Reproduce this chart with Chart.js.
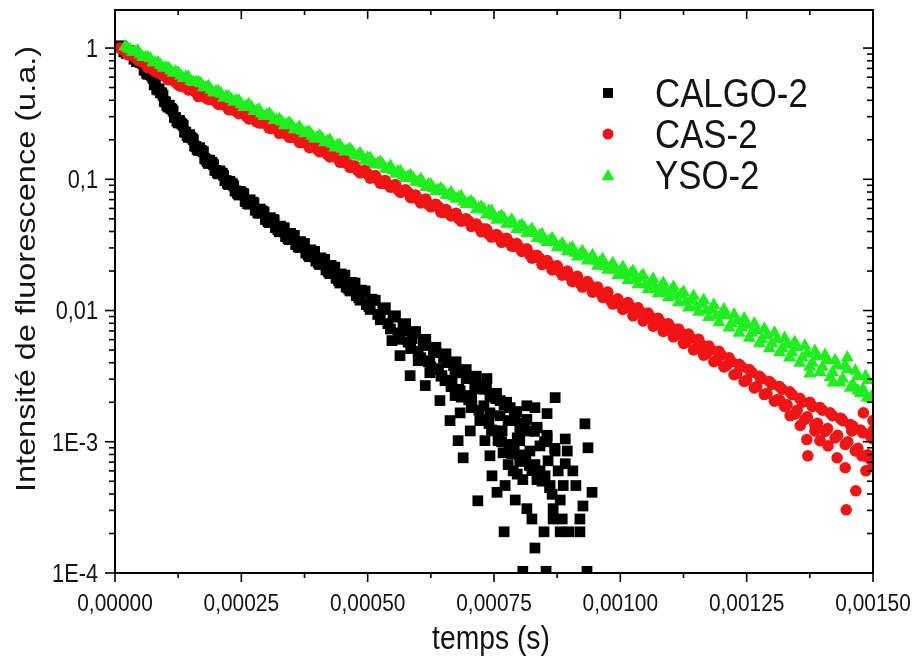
<!DOCTYPE html>
<html><head><meta charset="utf-8">
<script src="https://cdn.jsdelivr.net/npm/chart.js@4/dist/chart.umd.min.js"></script>
<style>html,body{margin:0;padding:0;background:#fff}canvas{display:block}</style>
</head><body>
<canvas id="c" width="916" height="662"></canvas>
<script>
// time axis (s), whole steps
const times = [1e-5,2e-5,3e-5,4e-5,5e-5,6e-5,7e-5,8e-5,9e-5,10e-5,
11e-5,12e-5,13e-5,14e-5,15e-5,16e-5,17e-5,18e-5,19e-5,20e-5,
21e-5,22e-5,23e-5,24e-5,25e-5,26e-5,27e-5,28e-5,29e-5,30e-5,
31e-5,32e-5,33e-5,34e-5,35e-5,36e-5,37e-5,38e-5,39e-5,40e-5,
41e-5,42e-5,43e-5,44e-5,45e-5,46e-5,47e-5,48e-5,49e-5,50e-5,
51e-5,52e-5,53e-5,54e-5,55e-5,56e-5,57e-5,58e-5,59e-5,60e-5,
61e-5,62e-5,63e-5,64e-5,65e-5,66e-5,67e-5,68e-5,69e-5,70e-5,
71e-5,72e-5,73e-5,74e-5,75e-5,76e-5,77e-5,78e-5,79e-5,80e-5,
81e-5,82e-5,83e-5,84e-5,85e-5,86e-5,87e-5,88e-5,89e-5,90e-5,
91e-5,92e-5,93e-5,94e-5,95e-5,96e-5,97e-5,98e-5,99e-5,100e-5,
101e-5,102e-5,103e-5,104e-5,105e-5,106e-5,107e-5,108e-5,109e-5,110e-5,
111e-5,112e-5,113e-5,114e-5,115e-5,116e-5,117e-5,118e-5,119e-5,120e-5,
121e-5,122e-5,123e-5,124e-5,125e-5,126e-5,127e-5,128e-5,129e-5,130e-5,
131e-5,132e-5,133e-5,134e-5,135e-5,136e-5,137e-5,138e-5,139e-5,140e-5,
141e-5,142e-5,143e-5,144e-5,145e-5,146e-5,147e-5,148e-5,149e-5,150e-5];

// time axis (s), half steps
const timesHalf = [1.5e-5,2.5e-5,3.5e-5,4.5e-5,5.5e-5,6.5e-5,7.5e-5,8.5e-5,9.5e-5,10.5e-5,
11.5e-5,12.5e-5,13.5e-5,14.5e-5,15.5e-5,16.5e-5,17.5e-5,18.5e-5,19.5e-5,20.5e-5,
21.5e-5,22.5e-5,23.5e-5,24.5e-5,25.5e-5,26.5e-5,27.5e-5,28.5e-5,29.5e-5,30.5e-5,
31.5e-5,32.5e-5,33.5e-5,34.5e-5,35.5e-5,36.5e-5,37.5e-5,38.5e-5,39.5e-5,40.5e-5,
41.5e-5,42.5e-5,43.5e-5,44.5e-5,45.5e-5,46.5e-5,47.5e-5,48.5e-5,49.5e-5,50.5e-5,
51.5e-5,52.5e-5,53.5e-5,54.5e-5,55.5e-5,56.5e-5,57.5e-5,58.5e-5,59.5e-5,60.5e-5,
61.5e-5,62.5e-5,63.5e-5,64.5e-5,65.5e-5,66.5e-5,67.5e-5,68.5e-5,69.5e-5,70.5e-5,
71.5e-5,72.5e-5,73.5e-5,74.5e-5,75.5e-5,76.5e-5,77.5e-5,78.5e-5,79.5e-5,80.5e-5,
81.5e-5,82.5e-5,83.5e-5,84.5e-5,85.5e-5,86.5e-5,87.5e-5,88.5e-5,89.5e-5,90.5e-5,
91.5e-5,92.5e-5,93.5e-5,94.5e-5,95.5e-5,96.5e-5,97.5e-5,98.5e-5,99.5e-5,100.5e-5,
101.5e-5,102.5e-5,103.5e-5,104.5e-5,105.5e-5,106.5e-5,107.5e-5,108.5e-5,109.5e-5,110.5e-5,
111.5e-5,112.5e-5,113.5e-5,114.5e-5,115.5e-5,116.5e-5,117.5e-5,118.5e-5,119.5e-5,120.5e-5,
121.5e-5,122.5e-5,123.5e-5,124.5e-5,125.5e-5,126.5e-5,127.5e-5,128.5e-5,129.5e-5,130.5e-5,
131.5e-5,132.5e-5,133.5e-5,134.5e-5,135.5e-5,136.5e-5,137.5e-5,138.5e-5,139.5e-5,140.5e-5,
141.5e-5,142.5e-5,143.5e-5,144.5e-5,145.5e-5,146.5e-5,147.5e-5,148.5e-5,149.5e-5];

// time axis (s), quarter steps (dense early part of CALGO-2)
const timesQ1 = [1.25e-5,2.25e-5,3.25e-5,4.25e-5,5.25e-5,6.25e-5,7.25e-5,8.25e-5,9.25e-5,10.25e-5,
11.25e-5,12.25e-5,13.25e-5,14.25e-5,15.25e-5,16.25e-5,17.25e-5,18.25e-5,19.25e-5,20.25e-5,
21.25e-5,22.25e-5,23.25e-5,24.25e-5,25.25e-5,26.25e-5,27.25e-5,28.25e-5,29.25e-5,30.25e-5,
31.25e-5,32.25e-5,33.25e-5,34.25e-5,35.25e-5,36.25e-5,37.25e-5,38.25e-5,39.25e-5,40.25e-5,
41.25e-5,42.25e-5,43.25e-5,44.25e-5,45.25e-5,46.25e-5,47.25e-5,48.25e-5,49.25e-5,50.25e-5];
const timesQ3 = [1.75e-5,2.75e-5,3.75e-5,4.75e-5,5.75e-5,6.75e-5,7.75e-5,8.75e-5,9.75e-5,10.75e-5,
11.75e-5,12.75e-5,13.75e-5,14.75e-5,15.75e-5,16.75e-5,17.75e-5,18.75e-5,19.75e-5,20.75e-5,
21.75e-5,22.75e-5,23.75e-5,24.75e-5,25.75e-5,26.75e-5,27.75e-5,28.75e-5,29.75e-5,30.75e-5,
31.75e-5,32.75e-5,33.75e-5,34.75e-5,35.75e-5,36.75e-5,37.75e-5,38.75e-5,39.75e-5,40.75e-5,
41.75e-5,42.75e-5,43.75e-5,44.75e-5,45.75e-5,46.75e-5,47.75e-5,48.75e-5,49.75e-5,50.75e-5];

// CALGO-2 (black squares)
const calgo = [1.02,0.955,0.912,0.851,0.776,0.676,0.631,0.525,0.457,0.389,
0.347,0.295,0.269,0.229,0.209,0.178,0.166,0.141,0.135,0.117,
0.112,0.0977,0.0933,0.0813,0.0794,0.0676,0.0661,0.0589,0.0575,0.0501,
0.0490,0.0427,0.0417,0.0372,0.0363,0.0324,0.0316,0.0275,0.0282,0.0240,
0.0245,0.0204,0.0214,0.0178,0.0182,0.0151,0.0162,0.0132,0.0138,0.0112,
0.0120,0.00933,0.0102,0.00794,0.00891,0.00676,0.00776,0.00575,0.00676,0.00490,
0.00589,0.00407,0.00501,0.00355,0.00437,0.00295,0.00380,0.00251,0.00339,0.00209,
0.00302,0.00174,0.00251,0.00138,0.00219,0.00112,0.00191,0.000955,0.00158,0.000794,
0.00138,0.000661,0.00120,0.000562,0.00100,0.000447,0.000891];
const calgoHalf = [1.01,0.933,0.891,0.794,0.759,0.631,0.589,0.479,0.437,0.355,
0.331,0.269,0.257,0.209,0.200,0.166,0.162,0.132,0.129,0.110,
0.107,0.0912,0.0891,0.0759,0.0776,0.0646,0.0661,0.0550,0.0562,0.0468,
0.0490,0.0398,0.0427,0.0347,0.0372,0.0302,0.0324,0.0257,0.0282,0.0224,
0.0245,0.0191,0.0214,0.0162,0.0186,0.0141,0.0162,0.0120,0.0141,0.0102,
0.0120,0.00851,0.0105,0.00724,0.00912,0.00603,0.00794,0.00513,0.00692,0.00437,
0.00603,0.00372,0.00525,0.00316,0.00468,0.00263,0.00407,0.00219,0.00355,0.00182,
0.00316,0.00148,0.00269,0.00123,0.00234,0.00100,0.00200,0.000813,0.00170,0.000708,
0.00148,0.000603,0.00129,0.000501,0.00112,0.000398];
const calgoQ1 = [1.04,0.910,0.927,0.789,0.780,0.641,0.614,0.486,0.455,0.364,
0.343,0.277,0.264,0.215,0.206,0.169,0.164,0.136,0.134,0.112,
0.111,0.0931,0.0923,0.0780,0.0774,0.0652,0.0670,0.0557,0.0570,0.0476,
0.0493,0.0412,0.0425,0.0353,0.0374,0.0306,0.0323,0.0264,0.0280,0.0230,
0.0243,0.0197,0.0212,0.0169,0.0182,0.0146,0.0159,0.0125,0.0137,0.0107];
const calgoQ3 = [0.935,0.959,0.822,0.820,0.679,0.656,0.525,0.489,0.391,0.367,
0.296,0.281,0.229,0.219,0.179,0.174,0.144,0.140,0.117,0.116,
0.0975,0.0966,0.0815,0.0809,0.0678,0.0697,0.0581,0.0593,0.0494,0.0510,
0.0428,0.0440,0.0366,0.0387,0.0318,0.0335,0.0274,0.0290,0.0238,0.0252,
0.0204,0.0221,0.0176,0.0190,0.0151,0.0164,0.0130,0.0143,0.0111,0.0122];

// CALGO-2 noisy tail, extra points
const calgoTailT = [0.000689,0.000718,0.000746,0.000756,0.000770,0.000871,0.000855,0.000930,0.000936,0.000944,
0.000920,0.000920,0.000898,0.000881,0.000849,0.000831,0.000807,0.000853,0.000934,0.000815,
0.000825,0.000867,0.000885,0.000881,0.000867,0.000912,0.000887,0.000861,0.000835,0.000807,
0.000796,0.000778,0.000768,0.000831,0.000815,0.000782,0.000736,0.000891,0.000895,0.000891,
0.000871,0.000855,0.000835,0.000815,0.000796,0.000786,0.000821,0.000841,0.000906,0.000926,
0.000801,0.000762,0.000752,0.000732,0.000722,0.000703,0.000706,0.000683,0.000673,0.000663,
0.000653,0.000643,0.000623,0.000614,0.000600,0.000584,0.000564,0.000548,0.000703,0.000679,
0.000742,0.000772,0.000792,0.000758,0.000639,0.000667,0.000687,0.000712,0.000742,0.000762,
0.000792,0.000801,0.000841,0.000857,0.000831,0.000851,0.000788,0.000877,0.000613,0.000623,
0.000635,0.000647,0.000659,0.000673,0.000683,0.000695,0.000706,0.000718,0.000730,0.000742,
0.000754,0.000766,0.000778,0.000790,0.000801,0.000813,0.000588,0.000574];
const calgoTailV = [7.55e-4,3.55e-4,5.50e-4,4.12e-4,2.06e-4,2.17e-3,1.64e-3,1.37e-3,9.0e-4,4.12e-4,
2.58e-4,2.06e-4,2.06e-4,2.06e-4,2.06e-4,1.55e-4,1.03e-4,1.03e-4,1.03e-4,3.09e-4,
2.58e-4,2.58e-4,2.58e-4,3.60e-4,3.09e-4,4.64e-4,4.64e-4,4.64e-4,5.15e-4,5.15e-4,
5.67e-4,6.70e-4,8.24e-4,1.82e-3,1.88e-3,1.82e-3,3.03e-3,1.05e-3,8.5e-4,6.8e-4,
8.5e-4,1.07e-3,1.28e-3,1.21e-3,1.07e-3,8.5e-4,8.5e-4,6.0e-4,6.0e-4,3.24e-4,
7.16e-4,1.58e-3,1.21e-3,1.02e-3,1.45e-3,1.21e-3,1.88e-3,1.66e-3,2.25e-3,1.45e-3,
2.92e-3,2.06e-3,3.36e-3,2.68e-3,4.15e-3,3.19e-3,4.53e-3,5.9e-3,2.25e-3,1.02e-3,
7.82e-4,4.64e-4,3.60e-4,1.02e-3,3.61e-3,2.92e-3,3.36e-3,2.54e-3,2.25e-3,2.06e-3,
1.45e-3,1.02e-3,9.3e-4,7.16e-4,6.70e-4,5.5e-4,6.0e-4,6.0e-4,5.41e-3,4.15e-3,
4.78e-3,3.19e-3,4.01e-3,3.36e-3,2.45e-3,3.03e-3,2.13e-3,2.68e-3,1.88e-3,1.66e-3,
2.13e-3,1.21e-3,1.45e-3,9.3e-4,1.21e-3,7.82e-4,6.11e-3,7.04e-3];

// CAS-2 (red circles)
const cas = [1.00,0.955,0.891,0.851,0.794,0.759,0.708,0.661,0.646,0.603,
0.575,0.550,0.513,0.501,0.490,0.457,0.447,0.417,0.407,0.389,
0.372,0.363,0.339,0.331,0.324,0.302,0.295,0.275,0.269,0.263,
0.245,0.240,0.234,0.219,0.209,0.204,0.191,0.186,0.182,0.170,
0.166,0.155,0.151,0.145,0.135,0.132,0.126,0.117,0.115,0.110,
0.105,0.100,0.0933,0.0912,0.0891,0.0832,0.0813,0.0794,0.0724,0.0708,
0.0692,0.0646,0.0631,0.0617,0.0562,0.0550,0.0537,0.0501,0.0490,0.0479,
0.0447,0.0427,0.0417,0.0380,0.0372,0.0363,0.0339,0.0331,0.0309,0.0302,
0.0288,0.0269,0.0257,0.0251,0.0229,0.0224,0.0214,0.0200,0.0195,0.0182,
0.0178,0.0162,0.0158,0.0155,0.0141,0.0138,0.0132,0.0120,0.0117,0.0112,
0.0105,0.0107,0.00955,0.00977,0.00871,0.00891,0.00776,0.00813,0.00708,0.00741,
0.00646,0.00676,0.00575,0.00617,0.00513,0.00550,0.00468,0.00501,0.00417,0.00457,
0.00380,0.00407,0.00331,0.00372,0.00295,0.00339,0.00263,0.00302,0.00234,0.00275,
0.00209,0.00251,0.00191,0.00229,0.00174,0.00200,0.00155,0.00186,0.00138,0.00174,
0.00126,0.00158,0.00112,0.00145,0.00100,0.00132,0.000891,0.00117,0.000794,0.00105];
const casHalf = [0.977,0.891,0.871,0.813,0.794,0.708,0.692,0.646,0.631,0.575,
0.575,0.525,0.537,0.479,0.490,0.427,0.447,0.407,0.417,0.372,
0.380,0.339,0.347,0.316,0.324,0.288,0.295,0.269,0.275,0.245,
0.251,0.224,0.234,0.209,0.219,0.191,0.195,0.174,0.182,0.162,
0.166,0.148,0.155,0.135,0.141,0.123,0.126,0.112,0.117,0.102,
0.107,0.0933,0.0977,0.0871,0.0912,0.0794,0.0832,0.0724,0.0759,0.0661,
0.0708,0.0617,0.0646,0.0562,0.0589,0.0525,0.0550,0.0479,0.0501,0.0437,
0.0457,0.0398,0.0417,0.0363,0.0380,0.0331,0.0355,0.0309,0.0324,0.0282,
0.0295,0.0251,0.0263,0.0224,0.0240,0.0204,0.0219,0.0186,0.0200,0.0166,
0.0182,0.0151,0.0166,0.0138,0.0151,0.0126,0.0138,0.0112,0.0123,0.0102,
0.0115,0.00912,0.0105,0.00832,0.00955,0.00759,0.00871,0.00692,0.00794,0.00631,
0.00724,0.00562,0.00661,0.00501,0.00603,0.00457,0.00537,0.00407,0.00490,0.00372,
0.00437,0.00324,0.00389,0.00288,0.00355,0.00257,0.00316,0.00229,0.00288,0.00204,
0.00263,0.00186,0.00240,0.00162,0.00214,0.00148,0.00200,0.00135,0.00182,0.00120,
0.00166,0.00107,0.00151,0.000955,0.00135,0.000851,0.00123,0.000776,0.00110];

// CAS-2 scattered tail, extra points
const casTailT = [0.001371,0.001369,0.001395,0.001429,0.001445,0.001447,0.001466,0.001486,0.001494,0.001437,0.001481,0.001500,
0.001316,0.001336,0.001356,0.001385,0.001411,0.001458,0.001478,0.001500,0.001500];
const casTailV = [0.000782,0.00104,0.00102,0.000755,0.000634,0.000303,0.000423,0.000601,0.000739,0.00150,0.00166,0.00145,
0.00206,0.00158,0.00133,0.00121,0.00093,0.00121,0.000782,0.000656,0.00121];

// YSO-2 (green triangles)
const yso = [null,1.03,0.977,0.933,0.891,0.851,0.832,0.776,0.741,0.708,
0.676,0.661,0.617,0.603,0.562,0.550,0.537,0.501,0.479,0.468,
0.447,0.427,0.407,0.398,0.372,0.363,0.355,0.331,0.316,0.309,
0.302,0.282,0.275,0.263,0.257,0.240,0.234,0.229,0.214,0.209,
0.204,0.195,0.186,0.182,0.170,0.166,0.162,0.151,0.148,0.145,
0.135,0.132,0.129,0.120,0.117,0.115,0.107,0.105,0.102,0.0955,
0.0933,0.0912,0.0851,0.0832,0.0813,0.0759,0.0741,0.0724,0.0676,0.0661,
0.0646,0.0603,0.0589,0.0575,0.0525,0.0513,0.0501,0.0468,0.0457,0.0437,
0.0427,0.0398,0.0389,0.0372,0.0347,0.0339,0.0331,0.0309,0.0302,0.0295,
0.0275,0.0269,0.0263,0.0245,0.0240,0.0234,0.0219,0.0214,0.0204,0.0200,
0.0186,0.0191,0.0174,0.0178,0.0158,0.0162,0.0148,0.0151,0.0138,0.0141,
0.0129,0.0132,0.0117,0.0120,0.0107,0.0112,0.0100,0.0102,0.00912,0.00933,
0.00912,0.00794,0.00832,0.00741,0.00776,0.00676,0.00708,0.00603,0.00646,0.00562,
0.00603,0.00513,0.00550,0.00479,0.00525,0.00437,0.00468,0.00398,0.00447,0.00372,
0.00417,0.00339,0.00380,0.00302,0.00355,0.00275,0.00316,0.00251,0.00295,0.00229];
const ysoHalf = [null,1.00,0.933,0.955,0.851,0.851,0.776,0.776,0.708,0.708,
0.646,0.646,0.589,0.603,0.550,0.550,0.501,0.513,0.457,0.468,
0.417,0.427,0.389,0.398,0.355,0.372,0.331,0.339,0.302,0.316,
0.282,0.288,0.257,0.269,0.240,0.251,0.224,0.229,0.204,0.214,
0.191,0.200,0.174,0.182,0.162,0.170,0.151,0.158,0.138,0.145,
0.129,0.135,0.120,0.126,0.110,0.115,0.102,0.107,0.0955,0.100,
0.0871,0.0912,0.0813,0.0851,0.0759,0.0794,0.0708,0.0741,0.0646,0.0676,
0.0589,0.0617,0.0537,0.0575,0.0490,0.0525,0.0457,0.0490,0.0417,0.0447,
0.0389,0.0417,0.0355,0.0380,0.0331,0.0355,0.0302,0.0324,0.0282,0.0302,
0.0257,0.0282,0.0240,0.0263,0.0219,0.0245,0.0204,0.0229,0.0186,0.0214,
0.0170,0.0200,0.0158,0.0186,0.0145,0.0174,0.0135,0.0162,0.0126,0.0151,
0.0115,0.0138,0.0105,0.0129,0.00977,0.0120,0.00891,0.0110,0.00813,0.0102,
0.00741,0.00933,0.00676,0.00871,0.00617,0.00794,0.00562,0.00724,0.00513,0.00676,
0.00479,0.00617,0.00437,0.00575,0.00398,0.00537,0.00372,0.00490,0.00339,0.00457,
0.00309,0.00417,0.00282,0.00380,0.00257,0.00347,0.00234,0.00316,0.00214];

// YSO-2 tail, extra points
const ysoTailT = [0.001375,0.001449,0.001470,0.001488,0.001421];
const ysoTailV = [0.00330,0.00438,0.00245,0.00217,0.00282];

const seriesNames = ['CALGO-2','CAS-2','YSO-2'];
const xTickValues = [0,0.00025,0.0005,0.00075,0.001,0.00125,0.0015];
const xTickLabels = ['0,00000','0,00025','0,00050','0,00075','0,00100','0,00125','0,00150'];
const yTickValues = [1e-4,1e-3,0.01,0.1,1];
const yTickLabels = ['1E-4','1E-3','0,01','0,1','1'];
const xTitle = 'temps (s)';
const yTitle = 'Intensité de fluorescence (u.a.)';

const FONT = "'Liberation Sans', Arial, sans-serif";
const RED = '#f01414', GREEN = '#1eee1e', BLACK = '#000000', TXT = '#141414';
const SX = 0.87; // horizontal narrowing of the lettering

function pts(ts, vs){ const out=[]; for(let i=0;i<ts.length && i<vs.length;i++){ if(vs[i]!=null) out.push({x:ts[i], y:vs[i]}); } return out; }

const calgoData = pts(times, calgo).concat(pts(timesHalf, calgoHalf), pts(timesQ1, calgoQ1), pts(timesQ3, calgoQ3), pts(calgoTailT, calgoTailV));
const casData = pts(times, cas).concat(pts(timesHalf, casHalf), pts(casTailT, casTailV));
const ysoData = pts(times, yso).concat(pts(timesHalf, ysoHalf), pts(ysoTailT, ysoTailV));

function noPad(s){ s.paddingLeft = 0; s.paddingRight = 0; s.paddingTop = 0; s.paddingBottom = 0; }

function txt(ctx, s, x, y, align, size){
  ctx.save(); ctx.translate(x, y); ctx.scale(SX, 1);
  ctx.font = size + 'px ' + FONT; ctx.fillStyle = TXT;
  ctx.textAlign = align; ctx.textBaseline = 'alphabetic';
  ctx.fillText(s, 0, 0); ctx.restore();
}

const frame = {
  id:'frame',
  afterDatasetsDraw(chart){
    const {ctx, chartArea:{left,right,top,bottom}, scales:{x,y}} = chart;
    ctx.save();
    ctx.strokeStyle = '#000';
    const line=(a,b,c,d)=>{ctx.beginPath();ctx.moveTo(a,b);ctx.lineTo(c,d);ctx.stroke();};
    ctx.lineWidth = 1.6;
    for(let i=0;i<xTickValues.length;i++){
      const px = x.getPixelForValue(xTickValues[i]);
      line(px,bottom,px,bottom+9); line(px,top,px,top+9);
      if(i<xTickValues.length-1){
        const pm = x.getPixelForValue((xTickValues[i]+xTickValues[i+1])/2);
        line(pm,bottom,pm,bottom+5); line(pm,top,pm,top+5);
      }
    }
    for(const v of yTickValues){
      const py = y.getPixelForValue(v);
      line(left-10,py,left,py); line(right-10,py,right,py);
      for(let m=2;m<=9;m++){
        const vm = v*m;
        if(vm>y.max) continue;
        const pm = y.getPixelForValue(vm);
        line(left-6,pm,left,pm); line(right-6,pm,right,pm);
      }
    }
    ctx.lineWidth = 2;
    ctx.strokeRect(left, top, right-left, bottom-top);
    ctx.restore();
  }
};

const textPlug = {
  id:'textPlug',
  afterDraw(chart){
    const {ctx, scales:{x,y}} = chart;
    xTickValues.forEach((v,i)=>txt(ctx, xTickLabels[i], x.getPixelForValue(v), 611, 'center', 24));
    yTickValues.forEach((v,i)=>txt(ctx, yTickLabels[i], 98, y.getPixelForValue(v)+8.8, 'right', 25));
    txt(ctx, xTitle, 491, 649, 'center', 32.5);
    ctx.save();
    ctx.translate(27, 269); ctx.rotate(-Math.PI/2); ctx.scale(1, SX);
    ctx.font = '32.5px ' + FONT; ctx.fillStyle = TXT;
    ctx.textAlign = 'center'; ctx.textBaseline = 'middle';
    ctx.fillText(yTitle, 0, 0);
    ctx.restore();
    const rows = [
      {style:'rect', r:7, c:BLACK, y:93},
      {style:'circle', r:5.5, c:RED, y:134},
      {style:'triangle', r:7.5, c:GREEN, y:175}
    ];
    rows.forEach((r,i)=>{
      ctx.save();
      ctx.fillStyle = r.c; ctx.strokeStyle = r.c; ctx.lineWidth = 0;
      Chart.helpers.drawPoint(ctx, {pointStyle:r.style, radius:r.r, rotation:0, borderWidth:0}, 608, r.y + (r.style==='triangle'?1.5:0));
      ctx.restore();
      txt(ctx, seriesNames[i], 655, r.y + 14, 'left', 40);
    });
  }
};

new Chart(document.getElementById('c').getContext('2d'), {
  type:'scatter',
  data:{datasets:[
    {label:seriesNames[0], data:calgoData, pointStyle:'rect', pointRadius:7.6, backgroundColor:BLACK, borderColor:BLACK, borderWidth:0, order:3},
    {label:seriesNames[1], data:casData, pointStyle:'circle', pointRadius:5.8, backgroundColor:RED, borderColor:RED, borderWidth:0, order:2},
    {label:seriesNames[2], data:ysoData, pointStyle:'triangle', pointRadius:7.6, backgroundColor:GREEN, borderColor:GREEN, borderWidth:0, order:1}
  ]},
  options:{
    responsive:false, animation:false, devicePixelRatio:1, events:[],
    layout:{padding:{left:0,right:43,top:10,bottom:0}},
    plugins:{legend:{display:false}, tooltip:{enabled:false}},
    scales:{
      x:{type:'linear', min:0, max:0.0015,
        afterBuildTicks:s=>{s.ticks = xTickValues.map(v=>({value:v}));},
        afterFit:s=>{s.height = 89; noPad(s);},
        grid:{display:false, drawTicks:false}, border:{display:false},
        ticks:{display:false}, title:{display:false}
      },
      y:{type:'logarithmic', min:1e-4, max:1.95,
        afterBuildTicks:s=>{s.ticks = yTickValues.map(v=>({value:v}));},
        afterFit:s=>{s.width = 115; noPad(s);},
        grid:{display:false, drawTicks:false}, border:{display:false},
        ticks:{display:false}, title:{display:false}
      }
    }
  },
  plugins:[frame, textPlug]
});
</script>
</body></html>
